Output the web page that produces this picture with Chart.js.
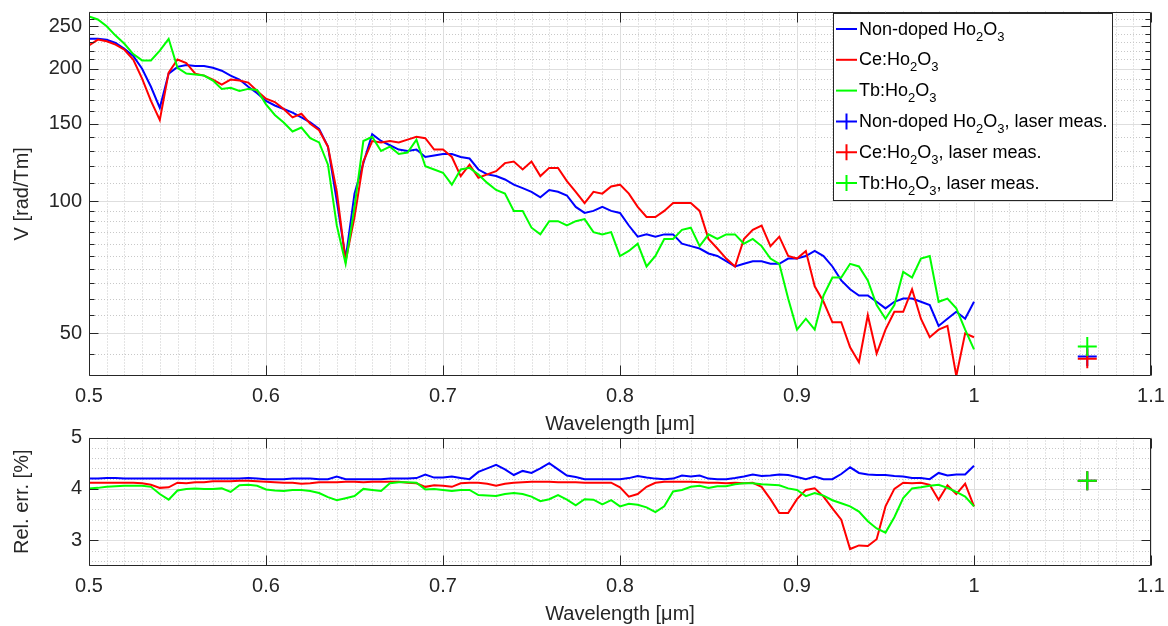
<!DOCTYPE html>
<html>
<head>
<meta charset="utf-8">
<script src="https://cdn.jsdelivr.net/npm/chart.js"></script>
<style>
  html, body { margin: 0; padding: 0; background: #fff; }
  #wrap { position: relative; width: 1168px; height: 626px; }
  canvas { position: absolute; left: 0; }
  #top { top: 0; }
  #bot { top: 426px; }
</style>
</head>
<body>
<div id="wrap">
  <canvas id="top" width="1168" height="436"></canvas>
  <canvas id="bot" width="1168" height="200"></canvas>
</div>
<script>
// wavelength grid in um
const wavelength = [
  0.500, 0.505, 0.510, 0.515, 0.520, 0.525, 0.530, 0.535, 0.540, 0.545,
  0.550, 0.555, 0.560, 0.565, 0.570, 0.575, 0.580, 0.585, 0.590, 0.595,
  0.600, 0.605, 0.610, 0.615, 0.620, 0.625, 0.630, 0.635, 0.640, 0.645,
  0.650, 0.655, 0.660, 0.665, 0.670, 0.675, 0.680, 0.685, 0.690, 0.695,
  0.700, 0.705, 0.710, 0.715, 0.720, 0.725, 0.730, 0.735, 0.740, 0.745,
  0.750, 0.755, 0.760, 0.765, 0.770, 0.775, 0.780, 0.785, 0.790, 0.795,
  0.800, 0.805, 0.810, 0.815, 0.820, 0.825, 0.830, 0.835, 0.840, 0.845,
  0.850, 0.855, 0.860, 0.865, 0.870, 0.875, 0.880, 0.885, 0.890, 0.895,
  0.900, 0.905, 0.910, 0.915, 0.920, 0.925, 0.930, 0.935, 0.940, 0.945,
  0.950, 0.955, 0.960, 0.965, 0.970, 0.975, 0.980, 0.985, 0.990, 0.995,
  1.000
];

// Verdet constant V [rad/Tm]
const verdetNonDoped = [
  234, 234, 233, 229, 222, 214, 200, 182, 163, 195,
  202, 204, 203, 203, 201, 198, 193, 189, 182, 176,
  169, 165, 162, 159, 155, 151, 146, 133, 100, 74,
  104, 122, 142, 137, 134, 131, 130, 131, 126, 127,
  128, 128, 126, 125, 118, 115, 114, 112, 109, 107,
  105, 102, 106, 105, 103, 97, 94, 95, 97, 95,
  94, 88, 83, 84, 83, 84, 84, 80, 79, 78,
  76, 75, 73, 71, 72, 73, 73, 72, 72, 74,
  74, 75, 77, 75, 71, 66, 63, 61, 61, 59,
  57, 59, 60, 60, 59, 58, 52, 54, 56, 54,
  59
];
const verdetCe = [
  226, 233, 231, 227, 221, 210, 190, 169, 153, 196,
  210, 206, 195, 193, 189, 184, 189, 188, 186, 178,
  171, 168, 162, 155, 158, 150, 145, 133, 105, 73,
  92, 123, 137, 136, 137, 136, 138, 140, 139, 131,
  131, 126, 114, 121, 113, 115, 117, 122, 123, 118,
  123, 114, 119, 119, 111, 105, 99, 105, 104, 108,
  109, 104, 97, 92, 92, 95, 99, 99, 99, 95,
  82, 78, 74, 71, 82, 86, 88, 79, 83, 75,
  74, 77, 64, 59, 53, 53, 46.5, 43, 55, 45,
  51, 56, 56, 63, 54, 49, 51, 52, 40, 50,
  49
];
const verdetTb = [
  263, 259, 250, 238, 228, 216, 209, 209, 220, 234,
  201, 195, 194, 193, 188, 180, 181, 178, 180, 179,
  166, 157, 151, 144, 147, 139, 136, 121, 88, 72,
  97, 137, 140, 130, 133, 128, 129, 138, 120, 118,
  116, 109, 118, 119, 115, 110, 106, 104, 95, 95,
  87, 84, 90, 90, 88, 90, 91, 85, 84, 85,
  75, 77, 80, 71, 75, 82, 82, 86, 87, 79,
  84, 82, 84, 84, 80, 82, 79, 74, 72, 60,
  51, 54, 51, 61, 67, 67, 72, 71, 66, 58,
  54, 58, 69, 67, 74, 75, 59, 60, 57, 51,
  46
];

// relative error [%]
const relErrNonDoped = [
  4.20, 4.20, 4.21, 4.21, 4.20, 4.20, 4.20, 4.20, 4.20, 4.20,
  4.20, 4.20, 4.20, 4.20, 4.20, 4.20, 4.20, 4.20, 4.21, 4.20,
  4.19, 4.19, 4.19, 4.20, 4.20, 4.20, 4.19, 4.19, 4.24, 4.19,
  4.19, 4.19, 4.19, 4.19, 4.20, 4.20, 4.20, 4.21, 4.28, 4.22,
  4.22, 4.24, 4.21, 4.19, 4.33, 4.40, 4.47, 4.38, 4.27, 4.35,
  4.31, 4.40, 4.50, 4.38, 4.26, 4.23, 4.19, 4.19, 4.19, 4.19,
  4.19, 4.21, 4.25, 4.22, 4.20, 4.19, 4.20, 4.26, 4.24, 4.26,
  4.20, 4.19, 4.19, 4.21, 4.24, 4.28, 4.25, 4.26, 4.28, 4.27,
  4.23, 4.19, 4.24, 4.19, 4.19, 4.29, 4.42, 4.31, 4.28, 4.27,
  4.27, 4.25, 4.24, 4.21, 4.21, 4.19, 4.31, 4.26, 4.28, 4.28,
  4.45
];
const relErrCe = [
  4.12, 4.12, 4.12, 4.12, 4.12, 4.12, 4.11, 4.08, 4.02, 4.03,
  4.12, 4.11, 4.13, 4.13, 4.15, 4.15, 4.15, 4.16, 4.16, 4.15,
  4.14, 4.13, 4.12, 4.12, 4.10, 4.11, 4.13, 4.13, 4.13, 4.14,
  4.14, 4.13, 4.14, 4.14, 4.14, 4.14, 4.12, 4.11, 4.04, 4.07,
  4.06, 4.04, 4.11, 4.12, 4.12, 4.10, 4.06, 4.10, 4.12, 4.13,
  4.14, 4.14, 4.14, 4.13, 4.13, 4.13, 4.12, 4.12, 4.12, 4.12,
  4.03, 3.85, 3.90, 4.04, 4.12, 4.14, 4.14, 4.14, 4.14, 4.13,
  4.12, 4.12, 4.11, 4.12, 4.11, 4.12, 4.04, 3.80, 3.53, 3.53,
  3.80, 3.98, 4.01, 3.85, 3.62, 3.40, 2.83, 2.90, 2.89, 3.02,
  3.66, 4.00, 4.12, 4.11, 4.12, 4.08, 3.79, 4.07, 3.90, 4.10,
  3.66
];
const relErrTb = [
  4.01, 4.02, 4.04, 4.05, 4.06, 4.06, 4.06, 4.04, 3.90, 3.79,
  3.97, 4.00, 4.01, 4.00, 4.00, 4.01, 3.94, 4.07, 4.08, 4.06,
  3.99, 3.97, 3.96, 3.98, 3.98, 3.96, 3.92, 3.84, 3.78, 3.82,
  3.86, 4.00, 3.98, 3.96, 4.11, 4.13, 4.13, 4.12, 3.99, 4.00,
  3.98, 3.96, 3.98, 3.98, 3.88, 3.87, 3.86, 3.90, 3.92, 3.90,
  3.85, 3.76, 3.80, 3.88, 3.79, 3.68, 3.80, 3.79, 3.70, 3.78,
  3.66, 3.71, 3.69, 3.64, 3.55, 3.66, 3.95, 3.98, 4.04, 4.06,
  4.02, 4.05, 4.05, 4.09, 4.11, 4.11, 4.09, 4.08, 4.07, 4.01,
  3.98, 3.86, 3.92, 3.87, 3.78, 3.72, 3.66, 3.56, 3.37, 3.23,
  3.15, 3.45, 3.82, 4.01, 4.03, 4.06, 4.08, 4.02, 3.94, 3.85,
  3.66
];

// laser measurements (1064 nm)
const laserWavelength = 1.064;
const laserVerdet = [44.3, 43.8, 46.7];     // non-doped, Ce, Tb
const laserRelErr = [4.16, 4.16, 4.16];

// ticks
const xTicks = [0.5, 0.6, 0.7, 0.8, 0.9, 1.0, 1.1];
const yTicksTop = [50, 100, 150, 200, 250];
const yMinorTop = [45, 55, 60, 65, 70, 75, 80, 85, 90, 95, 110, 120, 130, 140, 160, 170, 180, 190, 210, 220, 230, 240, 260];
const yTicksRel = [3, 4, 5];
const yMinorRel = [2.6, 2.8, 3.2, 3.4, 3.6, 3.8, 4.2, 4.4, 4.6, 4.8];
const xMinor = [];
for (let i = 51; i < 110; i++) if (i % 10) xMinor.push(i / 100);

const colors = ['#0000ff', '#ff0000', '#00ff00'];
const legendLabels = [
  'Non-doped Ho_2O_3', 'Ce:Ho_2O_3', 'Tb:Ho_2O_3',
  'Non-doped Ho_2O_3, laser meas.', 'Ce:Ho_2O_3, laser meas.', 'Tb:Ho_2O_3, laser meas.'
];

const FONT = '"Liberation Sans", Arial, Helvetica, sans-serif';
const INK = '#262626';
Chart.defaults.font.family = FONT;
Chart.defaults.color = INK;

function lineSet(ys, color, order) {
  return {
    data: wavelength.map((x, i) => ({ x: x, y: ys[i] })),
    showLine: true, borderColor: color, backgroundColor: color,
    borderWidth: 2, pointRadius: 0, tension: 0, order: order
  };
}
function laserSet(y, color, order) {
  return {
    data: [{ x: laserWavelength, y: y }],
    showLine: false, borderColor: color, backgroundColor: color,
    pointStyle: 'cross', pointRadius: 9.5, borderWidth: 2, order: order
  };
}

function richText(ctx, str, x, y) {
  const parts = str.split(/_(\d)/);
  parts.forEach((p, i) => {
    const sub = i % 2 === 1;
    ctx.font = (sub ? '13px ' : '18px ') + FONT;
    ctx.fillText(p, x, sub ? y + 6 : y);
    x += ctx.measureText(p).width;
  });
}

function drawLegend(ctx) {
  const x0 = 833, y0 = 13, w = 279, h = 187;
  ctx.save();
  ctx.fillStyle = '#fff';
  ctx.fillRect(x0, y0, w, h);
  ctx.strokeStyle = INK;
  ctx.lineWidth = 1;
  ctx.strokeRect(x0 + 0.5, y0 + 0.5, w, h);
  legendLabels.forEach((lab, i) => {
    const cy = 28 + 30.8 * i;
    const col = colors[i % 3];
    ctx.strokeStyle = col;
    ctx.lineWidth = 2;
    ctx.beginPath();
    ctx.moveTo(836, cy + 1);
    ctx.lineTo(857, cy + 1);
    if (i >= 3) {
      ctx.moveTo(846.5, cy - 7);
      ctx.lineTo(846.5, cy + 9);
    }
    ctx.stroke();
    ctx.fillStyle = '#000';
    ctx.textBaseline = 'alphabetic';
    ctx.textAlign = 'left';
    richText(ctx, lab, 859, cy + 6.5);
  });
  ctx.restore();
}

const frame = {
  id: 'frame',
  beforeDatasetsDraw(chart, args, o) {
    const { ctx, chartArea: a, scales: { x, y } } = chart;
    ctx.save();
    ctx.lineWidth = 1;
    const vline = v => { const p = Math.round(x.getPixelForValue(v)) + 0.5; ctx.moveTo(p, a.top); ctx.lineTo(p, a.bottom); };
    const hline = v => { const p = Math.round(y.getPixelForValue(v)) + 0.5; ctx.moveTo(a.left, p); ctx.lineTo(a.right, p); };
    ctx.strokeStyle = '#c8c8c8';
    ctx.setLineDash([1, 2]);
    ctx.beginPath();
    xMinor.forEach(vline);
    o.yMinor.forEach(hline);
    ctx.stroke();
    ctx.setLineDash([]);
    ctx.strokeStyle = '#dedede';
    ctx.beginPath();
    xTicks.forEach(vline);
    o.yMajor.forEach(hline);
    ctx.stroke();
    ctx.restore();
  },
  afterDatasetsDraw(chart, args, o) {
    const { ctx, chartArea: a, scales: { x, y } } = chart;
    const L = Math.round(a.left) + 0.5, R = Math.round(a.right) - 0.5;
    const T = Math.round(a.top) + 0.5, B = Math.round(a.bottom) - 0.5;
    ctx.save();
    ctx.strokeStyle = INK;
    ctx.lineWidth = 1;
    ctx.beginPath();
    ctx.rect(L, T, R - L, B - T);
    xTicks.forEach(v => {
      const p = Math.round(x.getPixelForValue(v)) + 0.5;
      ctx.moveTo(p, B); ctx.lineTo(p, B - 10);
      ctx.moveTo(p, T); ctx.lineTo(p, T + 10);
    });
    const ytick = (v, len) => {
      const p = Math.round(y.getPixelForValue(v)) + 0.5;
      ctx.moveTo(L, p); ctx.lineTo(L + len, p);
      ctx.moveTo(R, p); ctx.lineTo(R - len, p);
    };
    o.yMajor.forEach(v => ytick(v, 9));
    if (o.minorTicks) o.yMinor.forEach(v => ytick(v, 5));
    ctx.stroke();
    ctx.restore();
  },
  afterDraw(chart, args, o) {
    if (o.legend) drawLegend(chart.ctx);
  }
};

function xScale() {
  return {
    type: 'linear', min: 0.5, max: 1.1,
    grid: { display: false, drawTicks: false },
    border: { display: false },
    afterBuildTicks: s => { s.ticks = xTicks.map(v => ({ value: v })); },
    afterFit: s => { s.height = 60; s.paddingLeft = 0; s.paddingRight = 0; },
    ticks: {
      font: { size: 20 }, color: INK, padding: 8, maxRotation: 0, autoSkip: false,
      callback: v => String(Math.round(v * 10) / 10)
    },
    title: { display: true, text: 'Wavelength [μm]', font: { size: 20 }, color: INK, padding: { top: 0, bottom: 0 } }
  };
}

function yScale(type, min, max, ticks, title) {
  return {
    type: type, min: min, max: max,
    grid: { display: false, drawTicks: false },
    border: { display: false },
    afterBuildTicks: s => { s.ticks = ticks.map(v => ({ value: v })); },
    afterFit: s => { s.width = 89; s.paddingTop = 0; s.paddingBottom = 0; },
    ticks: { font: { size: 20 }, color: INK, padding: 7, autoSkip: false, callback: v => String(v) },
    title: { display: true, text: title, font: { size: 20 }, color: INK, padding: { top: 10, bottom: 0 } }
  };
}

function baseOptions(pad) {
  return {
    responsive: false, animation: false, events: [],
    layout: { padding: pad },
    plugins: { legend: { display: false }, tooltip: { enabled: false } }
  };
}

// top panel: Verdet constant (log scale)
const topOpts = baseOptions({ left: 0, right: 17, top: 7, bottom: 0 });
topOpts.scales = { x: xScale(), y: yScale('logarithmic', 40, 270, yTicksTop, 'V [rad/Tm]') };
topOpts.plugins.frame = { yMajor: yTicksTop, yMinor: yMinorTop, minorTicks: true, legend: true };

new Chart(document.getElementById('top'), {
  type: 'scatter',
  data: {
    datasets: [
      lineSet(verdetNonDoped, colors[0], 6),
      lineSet(verdetCe, colors[1], 5),
      lineSet(verdetTb, colors[2], 4),
      laserSet(laserVerdet[0], colors[0], 3),
      laserSet(laserVerdet[1], colors[1], 2),
      laserSet(laserVerdet[2], colors[2], 1)
    ]
  },
  options: topOpts,
  plugins: [frame]
});

// bottom panel: relative error
const botOpts = baseOptions({ left: 0, right: 17, top: 11, bottom: 0 });
botOpts.scales = { x: xScale(), y: yScale('linear', 2.5, 5, yTicksRel, 'Rel. err. [%]') };
botOpts.plugins.frame = { yMajor: yTicksRel, yMinor: yMinorRel, minorTicks: false, legend: false };

new Chart(document.getElementById('bot'), {
  type: 'scatter',
  data: {
    datasets: [
      lineSet(relErrNonDoped, colors[0], 6),
      lineSet(relErrCe, colors[1], 5),
      lineSet(relErrTb, colors[2], 4),
      laserSet(laserRelErr[0], colors[0], 3),
      laserSet(laserRelErr[1], colors[1], 2),
      laserSet(laserRelErr[2], colors[2], 1)
    ]
  },
  options: botOpts,
  plugins: [frame]
});
</script>
</body>
</html>
